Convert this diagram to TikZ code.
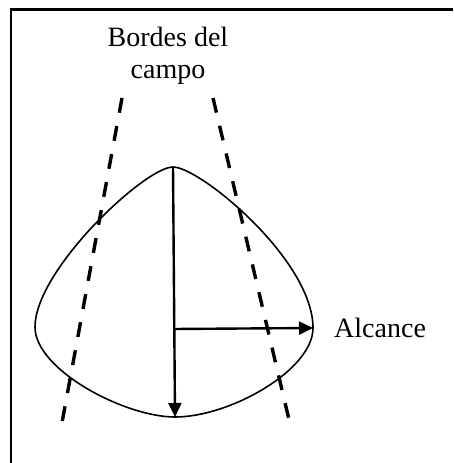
\documentclass[tikz,border=0pt]{standalone}
\usepackage{fontspec}
\setmainfont{Liberation Serif}
\usetikzlibrary{arrows.meta}
\tikzset{
  lobe/.style={line width=1.6pt},
  edge/.style={line width=3.4pt, dash pattern=on 15pt off 13.5pt},
  arr/.style={line width=2.4pt, -{Triangle[length=14pt, width=13pt]}},
  lbl/.style={font=\fontsize{28}{32}\selectfont, align=center, inner sep=0pt},
}
\begin{document}
\begin{tikzpicture}[x=1pt, y=-1pt]
  \useasboundingbox (0,0) rectangle (453,463);
  % frame (open at right and bottom)
  \draw[line width=2.2pt] (11,463) -- (11,9.5) -- (453,9.5);
  % key points of the lobe
  \coordinate (tp) at (173,167);
  \coordinate (rt) at (313,328);
  \coordinate (bt) at (175,417);
  \coordinate (lf) at (35,327);
  \coordinate (ctr) at (173.6,329);
  \draw[lobe] (tp) .. controls (200,167) and (313,260) .. (rt)
    .. controls (313,370) and (230,417) .. (bt)
    .. controls (125,417) and (35,370) .. (lf)
    .. controls (35,270) and (145,167) .. (tp) -- cycle;
  % field borders
  \coordinate (l1) at (122,98);
  \coordinate (l2) at (61,428);
  \coordinate (r1) at (213,98);
  \coordinate (r2) at (291,428);
  \draw[edge] (l1) -- (l2);
  \draw[edge] (r1) -- (r2);
  % arrows
  \draw[arr] (tp) -- (bt);
  \draw[arr] (ctr) -- (rt);
  % labels
  \node[lbl] (bordes) at (168,56) {Bordes del\\campo};
  \node[lbl, anchor=west] (alc) at (334,328) {Alcance};
\end{tikzpicture}
\end{document}
